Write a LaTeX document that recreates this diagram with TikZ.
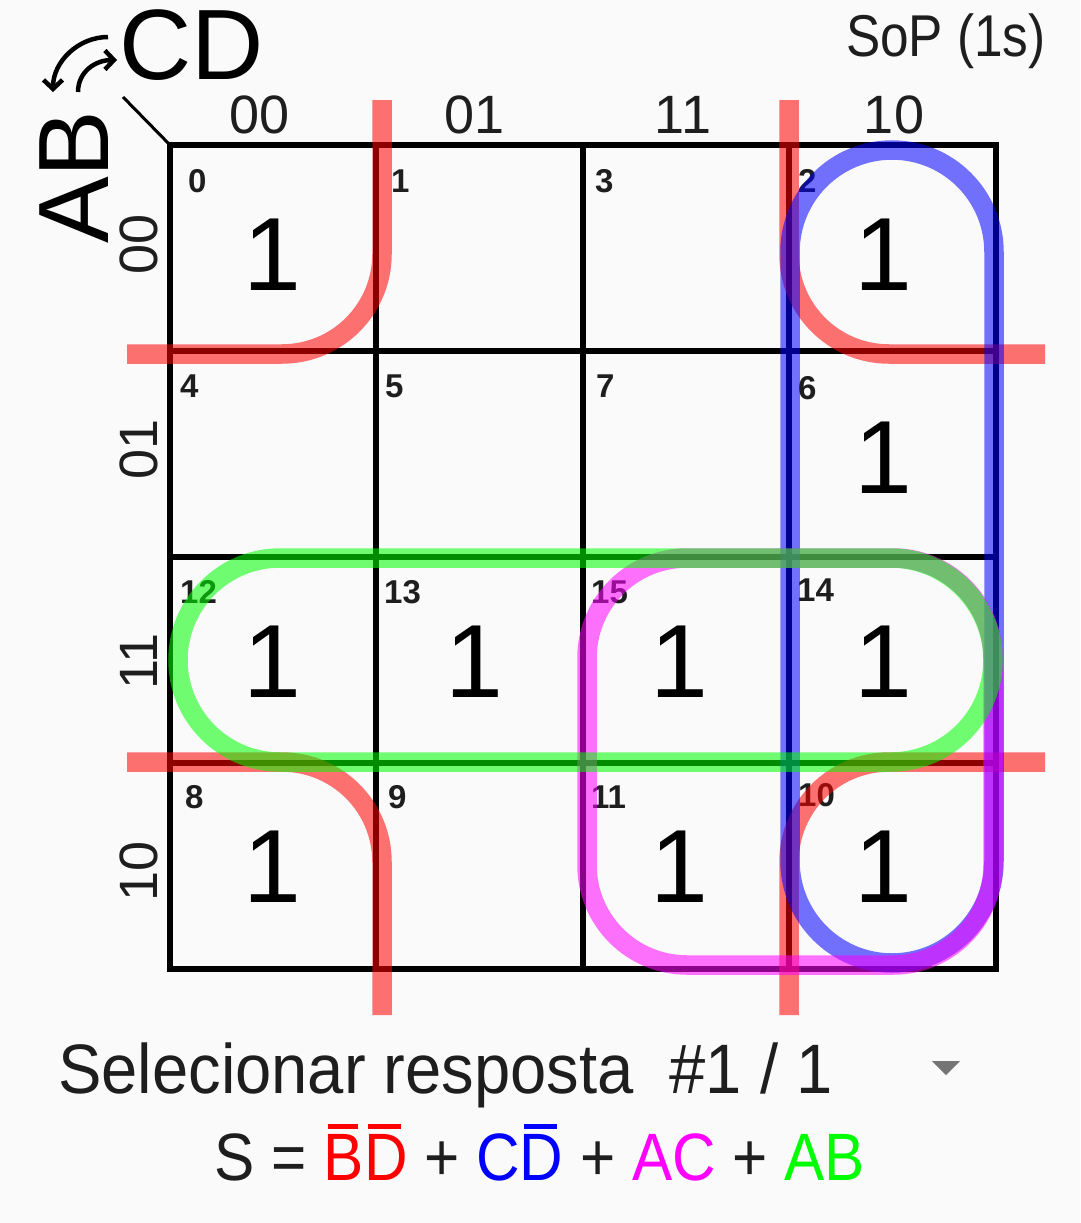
\documentclass[tikz,border=0pt]{standalone}
\usepackage{fontspec}
\setmainfont{Liberation Sans}
\usepackage{graphicx}
\usetikzlibrary{arrows.meta}
\definecolor{bgc}{HTML}{FAFAFA}
\definecolor{ink}{HTML}{1E1E1E}
\definecolor{uigray}{HTML}{757575}
\definecolor{kred}{HTML}{FF0000}
\definecolor{kblue}{HTML}{0000FF}
\definecolor{kmag}{HTML}{FF00FF}
\definecolor{kgreen}{HTML}{00FF00}
\newcommand\barred[1]{\setbox0\hbox{#1}\rlap{\hspace{0.1\wd0}\raisebox{\dimexpr\ht0+5pt\relax}{\rule{0.75\wd0}{4.5pt}}}\box0}
\begin{document}
\begin{tikzpicture}[x=1pt,y=-1pt,
  gridline/.style={line width=6pt,black},
  grp/.style={line width=19.5pt,draw opacity=0.55},
  cnum/.style={anchor=base west,inner sep=0pt,text=ink,font=\fontsize{33}{33}\selectfont\bfseries},
  bigone/.style={anchor=base,inner sep=0pt,text=black,font=\fontsize{104}{104}\selectfont},
  hdr/.style={anchor=base,inner sep=0pt,text depth=0pt,text=ink,font=\fontsize{54}{54}\selectfont},
  rowhdr/.style={hdr,rotate=90},
  varname/.style={anchor=base,inner sep=0pt,text depth=0pt,text=black,font=\fontsize{100}{100}\selectfont},
  curvearrow/.style={line width=4.5pt,black,-{Straight Barb[length=9pt,width=19pt,line width=4.5pt]}},
]
\fill[bgc] (0,0) rectangle (1080,1223);
\useasboundingbox (0,0) rectangle (1080,1223);

% grid
\draw[gridline] (170,145) rectangle (995.6,969);
\foreach \gx in {376.4,582.8,789.2}{\draw[gridline] (\gx,145) -- (\gx,969);}
\foreach \gy in {351,557,763}{\draw[gridline] (170,\gy) -- (995.6,\gy);}
\draw[line width=3pt,black] (123,97) -- (170,145);

% variable names and arrows
\node[varname] (cd) at (192,80) {CD};
\node[varname,rotate=90] (ab) at (108,177) {AB};
\draw[curvearrow] (108,37) .. controls (78,37) and (53,62) .. (53,92);
\draw[curvearrow] (78,92) .. controls (78,72) and (95,60) .. (117,60);

% column headers
\node[hdr] (c00) at (260,133) {00};
\node[hdr] (c01) at (475,133) {01};
\node[hdr] (c11) at (683,133) {11};
\node[hdr] (c10) at (894,133) {10};
% row headers
\node[rowhdr] (r00) at (157,244) {00};
\node[rowhdr] (r01) at (157,449) {01};
\node[rowhdr] (r11) at (157,661) {11};
\node[rowhdr] (r10) at (157,871) {10};

% title
\node[anchor=base east,inner sep=0pt,text=ink,font=\fontsize{59}{59}\selectfont] (title) at (1046,57) {\scalebox{0.87}[1]{SoP (1s)}};

% cell numbers
\node[cnum] (n0) at (188,192) {0};
\node[cnum] (n1) at (391,192) {1};
\node[cnum] (n3) at (595,192) {3};
\node[cnum] (n2) at (798,192) {2};
\node[cnum] (n4) at (180,397) {4};
\node[cnum] (n5) at (385,397) {5};
\node[cnum] (n7) at (596,397) {7};
\node[cnum] (n6) at (798,399) {6};
\node[cnum] (n12) at (180,603) {12};
\node[cnum] (n13) at (384,603) {13};
\node[cnum] (n15) at (591,603) {15};
\node[cnum] (n14) at (797,601) {14};
\node[cnum] (n8) at (185,808) {8};
\node[cnum] (n9) at (388,808) {9};
\node[cnum] (n11) at (591,808) {11};
\node[cnum] (n10) at (798,806) {10};

% ones
\node[bigone] (v0) at (272,290) {1};
\node[bigone] (v2) at (883,290) {1};
\node[bigone] (v6) at (883,493) {1};
\node[bigone] (v12) at (272,697) {1};
\node[bigone] (v13) at (474,697) {1};
\node[bigone] (v15) at (679,697) {1};
\node[bigone] (v14) at (883,697) {1};
\node[bigone] (v8) at (272,902) {1};
\node[bigone] (v11) at (679,902) {1};
\node[bigone] (v10) at (883,902) {1};

% groups
\draw[grp,draw=kred,rounded corners=100pt] (382,100) -- (382,354) -- (127,354);
\draw[grp,draw=kred,rounded corners=100pt] (789,100) -- (789,354) -- (1045,354);
\draw[grp,draw=kred,rounded corners=100pt] (127,762) -- (382,762) -- (382,1015);
\draw[grp,draw=kred,rounded corners=100pt] (1045,762) -- (789,762) -- (789,1015);
\draw[grp,draw=kblue,rounded corners=102pt] (790,150) rectangle (994,963);
\draw[grp,draw=kmag,rounded corners=100pt] (587,558) rectangle (993,965);
\draw[grp,draw=kgreen,rounded corners=102pt] (178,558) rectangle (993,762);

% bottom UI
\node[anchor=base west,inner sep=0pt,text=ink,font=\fontsize{70}{70}\selectfont] (sel) at (58,1093) {\scalebox{0.93}[1]{Selecionar resposta~~\#1 / 1}};
\fill[uigray] (932,1061) -- (960,1061) -- (946,1075) -- cycle;
\node[anchor=base,inner sep=0pt,text=ink,font=\fontsize{67}{67}\selectfont] (expr) at (540,1180) {\scalebox{0.9}[1]{S = \textcolor{kred}{\barred{B}\barred{D}} + \textcolor{kblue}{C\barred{D}} + \textcolor{kmag}{AC} + \textcolor{kgreen}{AB}}};
\end{tikzpicture}
\end{document}
